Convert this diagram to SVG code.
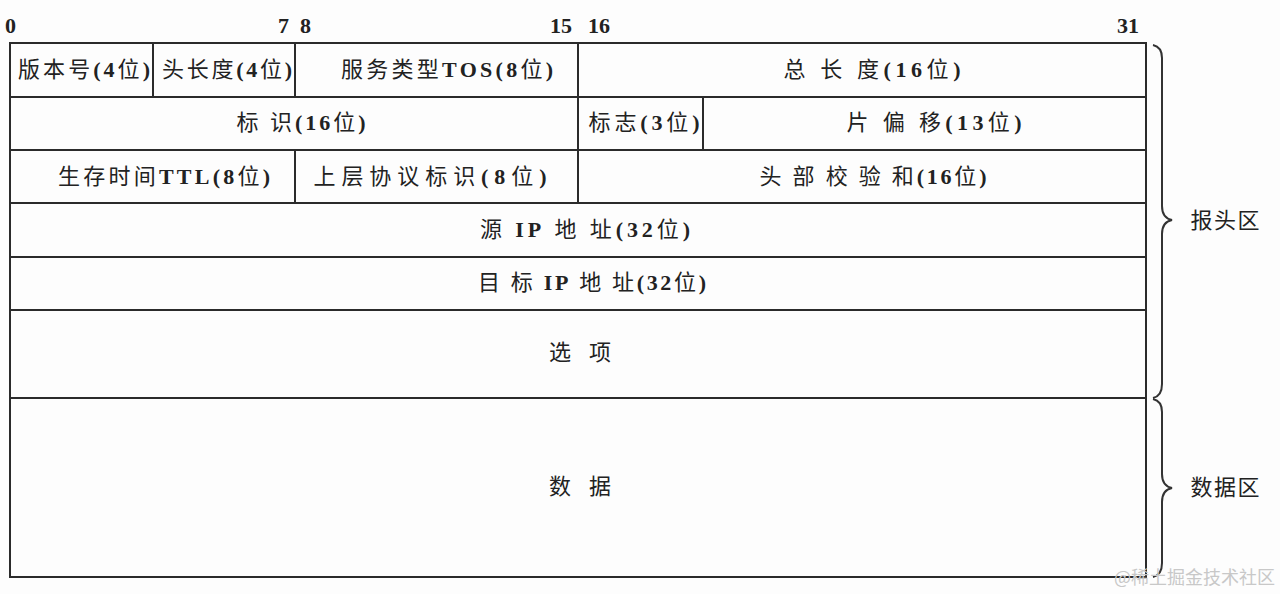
<svg xmlns="http://www.w3.org/2000/svg" width="1280" height="594" viewBox="0 0 1280 594">
<style>
.bg{fill:#fdfdfd}
.cell{fill:none;stroke:#2b2b2b;stroke-width:2}
.ln{stroke:#2b2b2b;stroke-width:2;fill:none}
.t{font-family:"Liberation Serif","Noto Sans CJK SC",serif;font-size:22px;fill:#222;text-anchor:middle}
.b{font-weight:bold}
.n{font-family:"Liberation Serif","Noto Sans CJK SC",serif;font-size:22px;font-weight:bold;fill:#222}
.br{fill:none;stroke:#333;stroke-width:2}
.wm{font-family:"Noto Sans CJK SC",sans-serif;font-size:18px;fill:#c8c8c8}
</style>
<rect class="bg" x="0" y="0" width="1280" height="594"/>
<g id="bit-numbers">
<text class="n" x="5" y="33">0</text>
<text class="n" x="278" y="33">7</text>
<text class="n" x="300" y="33">8</text>
<text class="n" x="550" y="33">15</text>
<text class="n" x="588" y="33">16</text>
<text class="n" x="1117" y="33">31</text>
</g>
<g id="frame">
<rect class="cell" x="10" y="43" width="1136" height="534"/>
</g>
<g id="connectors">
<line class="ln" x1="10" y1="97" x2="1146" y2="97"/>
<line class="ln" x1="10" y1="150" x2="1146" y2="150"/>
<line class="ln" x1="10" y1="203" x2="1146" y2="203"/>
<line class="ln" x1="10" y1="257" x2="1146" y2="257"/>
<line class="ln" x1="10" y1="310" x2="1146" y2="310"/>
<line class="ln" x1="10" y1="398" x2="1146" y2="398"/>
<line class="ln" x1="153" y1="43" x2="153" y2="97"/>
<line class="ln" x1="295" y1="43" x2="295" y2="97"/>
<line class="ln" x1="578" y1="43" x2="578" y2="203"/>
<line class="ln" x1="703" y1="97" x2="703" y2="150"/>
<line class="ln" x1="295" y1="150" x2="295" y2="203"/>
</g>
<g id="version"><text class="t" x="84" y="77" textLength="132" lengthAdjust="spacing">版本号<tspan class="b">(4</tspan>位<tspan class="b">)</tspan></text></g>
<g id="ihl"><text class="t" x="227" y="77" textLength="130" lengthAdjust="spacing">头长度<tspan class="b">(4</tspan>位<tspan class="b">)</tspan></text></g>
<g id="tos"><text class="t" x="447" y="77" textLength="212" lengthAdjust="spacing">服务类型<tspan class="b">TOS(8</tspan>位<tspan class="b">)</tspan></text></g>
<g id="total-length"><text class="t" x="872" y="77" textLength="177" lengthAdjust="spacing">总 长 度<tspan class="b">(16</tspan>位<tspan class="b">)</tspan></text></g>
<g id="identification"><text class="t" x="301" y="130" textLength="129" lengthAdjust="spacing">标 识<tspan class="b">(16</tspan>位<tspan class="b">)</tspan></text></g>
<g id="flags"><text class="t" x="644" y="130" textLength="111" lengthAdjust="spacing">标志<tspan class="b">(3</tspan>位<tspan class="b">)</tspan></text></g>
<g id="fragment-offset"><text class="t" x="934" y="130" textLength="175" lengthAdjust="spacing">片 偏 移<tspan class="b">(13</tspan>位<tspan class="b">)</tspan></text></g>
<g id="ttl"><text class="t" x="164" y="184" textLength="212" lengthAdjust="spacing">生存时间<tspan class="b">TTL(8</tspan>位<tspan class="b">)</tspan></text></g>
<g id="protocol"><text class="t" x="430" y="184" textLength="233" lengthAdjust="spacing">上层协议标识<tspan class="b">(8</tspan>位<tspan class="b">)</tspan></text></g>
<g id="checksum"><text class="t" x="873" y="184" textLength="227" lengthAdjust="spacing">头 部 校 验 和<tspan class="b">(16</tspan>位<tspan class="b">)</tspan></text></g>
<g id="src-ip"><text class="t" x="585" y="237" textLength="210" lengthAdjust="spacing">源 <tspan class="b">IP</tspan> 地 址<tspan class="b">(32</tspan>位<tspan class="b">)</tspan></text></g>
<g id="dst-ip"><text class="t" x="592" y="290" textLength="228" lengthAdjust="spacing">目 标 <tspan class="b">IP</tspan> 地 址<tspan class="b">(32</tspan>位<tspan class="b">)</tspan></text></g>
<g id="options"><text class="t" x="580" y="360" textLength="62" lengthAdjust="spacing">选 项</text></g>
<g id="data"><text class="t" x="580" y="494" textLength="62" lengthAdjust="spacing">数 据</text></g>
<g id="header-brace">
<path class="br" d="M1153,45 Q1162,47 1162,58 L1162,206 Q1162,218 1172,220 Q1162,222 1162,234 L1162,384 Q1162,396 1153,398"/>
<text class="t" x="1225" y="228" textLength="69" lengthAdjust="spacing">报头区</text>
</g>
<g id="data-brace">
<path class="br" d="M1153,399 Q1162,401 1162,412 L1162,474 Q1162,486 1172,488 Q1162,490 1162,502 L1162,563 Q1162,575 1153,577"/>
<text class="t" x="1225" y="495" textLength="69" lengthAdjust="spacing">数据区</text>
</g>
<text class="wm" x="1114" y="584">@稀土掘金技术社区</text>
</svg>
